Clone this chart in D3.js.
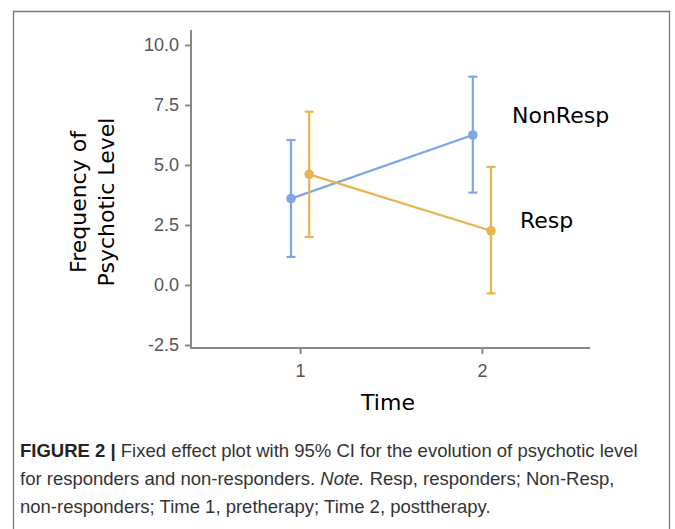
<!DOCTYPE html>
<html><head><meta charset="utf-8">
<script src="https://cdn.jsdelivr.net/npm/d3@7"></script>
<style>
body{margin:0;background:#fff;}
svg{display:block;}
</style></head>
<body>
<svg id="c" width="675" height="529"></svg>
<script>
const times = [1, 2];
const groups = ["NonResp", "Resp"];
const nonRespMean = [3.6, 6.25];
const nonRespLow = [1.17, 3.85];
const nonRespHigh = [6.04, 8.68];
const respMean = [4.61, 2.26];
const respLow = [2.0, -0.35];
const respHigh = [7.22, 4.92];
const yTicks = [-2.5, 0, 2.5, 5, 7.5, 10];
const xTicks = [1, 2];
const colors = {NonResp: "#7ba7e6", Resp: "#e8b44d"};
const offsets = {NonResp: -0.05, Resp: 0.05};

const series = [
  {name: "NonResp", mean: nonRespMean, low: nonRespLow, high: nonRespHigh},
  {name: "Resp", mean: respMean, low: respLow, high: respHigh}
];

const svg = d3.select("#c");
// frame
svg.append("path").attr("d", "M13.5,529 V11.5 H669.5 V529").attr("fill", "none").attr("stroke", "#777").attr("stroke-width", 1.3);

const x = d3.scaleLinear().domain([0.4, 2.6]).range([191, 591]);
const y = d3.scaleLinear().domain([-2.5, 10]).range([345, 45]);

const axisCol = "#888";
const tickFont = "Liberation Sans, Arial, sans-serif";
const fmtY = d => d3.format(".1f")(d).replace("\u2212", "-");
// y axis
const ya = svg.append("g").attr("transform", "translate(191,0)")
  .call(d3.axisLeft(y).tickValues(yTicks).tickFormat(fmtY).tickSize(6).tickSizeOuter(0));
ya.select(".domain").remove();
svg.append("line").attr("x1", 191).attr("x2", 191).attr("y1", 30).attr("y2", 349).attr("stroke", axisCol).attr("stroke-width", 2);
ya.selectAll(".tick line").attr("stroke", axisCol).attr("stroke-width", 2);
ya.selectAll(".tick text").attr("fill", "#555").attr("font-family", tickFont).attr("font-size", 18).attr("x", -12);

// x axis
const xa = svg.append("g").attr("transform", "translate(0,348)")
  .call(d3.axisBottom(x).tickValues(xTicks).tickFormat(d3.format("d")).tickSize(6).tickSizeOuter(0));
xa.select(".domain").remove();
svg.append("line").attr("x1", 190).attr("x2", 590).attr("y1", 348).attr("y2", 348).attr("stroke", axisCol).attr("stroke-width", 2);
xa.selectAll(".tick line").attr("stroke", axisCol).attr("stroke-width", 2);
xa.selectAll(".tick text").attr("fill", "#555").attr("font-family", tickFont).attr("font-size", 18).attr("y", 16);

// axis titles
const labFont = "DejaVu Sans, sans-serif";
svg.append("text").attr("x", 388).attr("y", 410).attr("text-anchor", "middle")
  .attr("font-family", labFont).attr("font-size", 22).attr("fill", "#000").text("Time");
const yl = svg.append("text").attr("transform", "translate(0,202) rotate(-90)")
  .attr("text-anchor", "middle").attr("font-family", labFont).attr("font-size", 22).attr("fill", "#000");
yl.append("tspan").attr("x", 0).attr("y", 86).text("Frequency of");
yl.append("tspan").attr("x", 0).attr("y", 114).text("Psychotic Level");

// series
series.forEach(s => {
  const col = colors[s.name];
  const off = offsets[s.name];
  const g = svg.append("g");
  const pts = times.map((t, i) => ({t, m: s.mean[i], lo: s.low[i], hi: s.high[i]}));
  g.append("path").datum(pts)
    .attr("d", d3.line().x(d => x(d.t + off)).y(d => y(d.m)))
    .attr("fill", "none").attr("stroke", col).attr("stroke-width", 2.2);
  pts.forEach(d => {
    const cx = x(d.t + off);
    g.append("line").attr("x1", cx).attr("x2", cx).attr("y1", y(d.lo)).attr("y2", y(d.hi)).attr("stroke", col).attr("stroke-width", 2.2);
    [d.lo, d.hi].forEach(v => g.append("line").attr("x1", cx - 4.5).attr("x2", cx + 4.5).attr("y1", y(v)).attr("y2", y(v)).attr("stroke", col).attr("stroke-width", 2.2));
    g.append("circle").attr("cx", cx).attr("cy", y(d.m)).attr("r", 4.8).attr("fill", col);
  });
});

// series labels
svg.append("text").attr("x", 512).attr("y", 123).attr("font-family", labFont).attr("font-size", 22).attr("fill", "#000").text(groups[0]);
svg.append("text").attr("x", 520).attr("y", 228).attr("font-family", labFont).attr("font-size", 22).attr("fill", "#000").text(groups[1]);

// caption
const cap = svg.append("text").attr("font-family", "Liberation Sans, Arial, sans-serif").attr("font-size", 18.5).attr("fill", "#333");
const l1 = cap.append("tspan").attr("x", 20).attr("y", 457);
l1.append("tspan").attr("font-weight", "bold").attr("fill", "#222").text("FIGURE 2 | ");
l1.append("tspan").text("Fixed effect plot with 95% CI for the evolution of psychotic level");
const l2 = cap.append("tspan").attr("x", 20).attr("y", 485);
l2.append("tspan").text("for responders and non-responders. ");
l2.append("tspan").attr("font-style", "italic").text("Note.");
l2.append("tspan").text(" Resp, responders; Non-Resp,");
cap.append("tspan").attr("x", 20).attr("y", 513).text("non-responders; Time 1, pretherapy; Time 2, posttherapy.");
</script>
</body></html>
